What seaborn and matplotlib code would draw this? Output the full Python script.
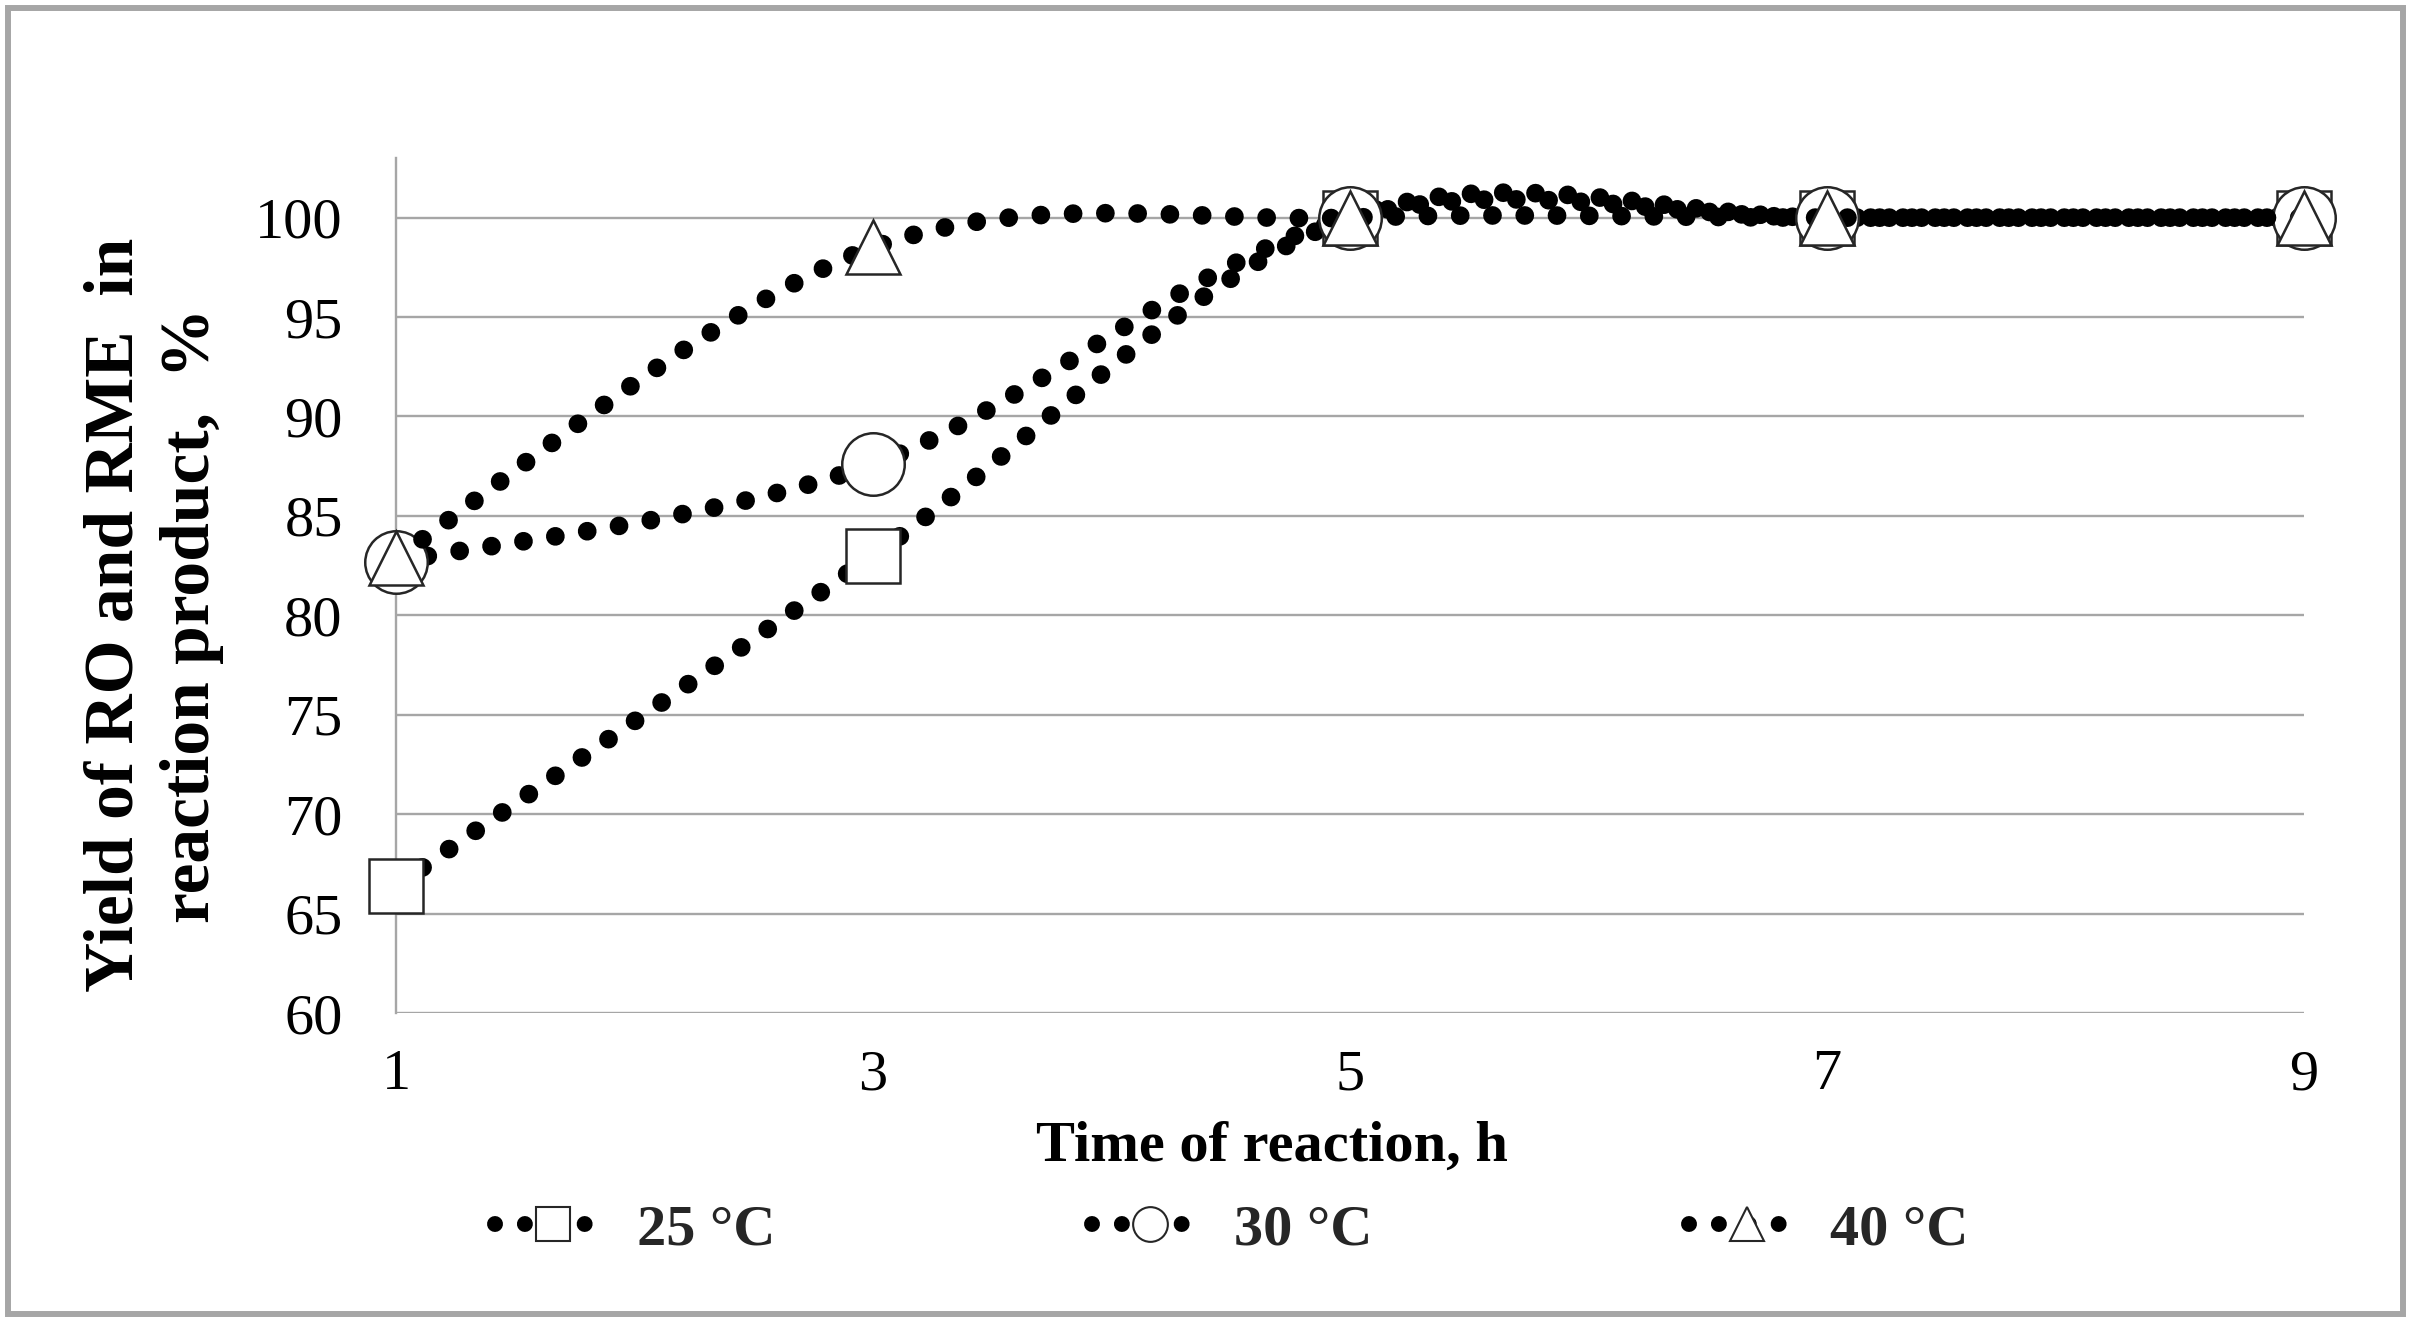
import numpy as np
import pandas as pd
import matplotlib
matplotlib.use("Agg")
import matplotlib.pyplot as plt
import seaborn as sns
from matplotlib.path import Path
from matplotlib.patches import PathPatch, Rectangle
from matplotlib.lines import Line2D
from matplotlib.legend_handler import HandlerLine2D

# ---------------- data ----------------
time_h = [1, 3, 5, 7, 9]
yield_25 = [66.4, 83.0, 100.0, 100.0, 100.0]
yield_30 = [82.7, 87.6, 100.0, 100.0, 100.0]
yield_40 = [82.9, 98.5, 100.0, 100.0, 100.0]
series_labels = ["25 °C", "30 °C", "40 °C"]
y_ticks = [60, 65, 70, 75, 80, 85, 90, 95, 100]
x_ticks = [1, 3, 5, 7, 9]

x_label = "Time of reaction, h"
y_label = "Yield of RO and RME  in\nreaction product,  %"

# ---------------- style ----------------
sns.set_theme(style="white")
plt.rcParams['font.family'] = ['Liberation Serif', 'DejaVu Serif']
plt.rcParams['lines.scale_dashes'] = True

W, H = 2411, 1322
fig = plt.figure(figsize=(W / 100, H / 100), dpi=100)
fig.patch.set_facecolor("white")

ax_left, ax_right, ax_top, ax_bottom = 396, 2304, 158, 1013
ax = fig.add_axes([ax_left / W, 1 - ax_bottom / H,
                   (ax_right - ax_left) / W, (ax_bottom - ax_top) / H])
ax.set_facecolor("white")

grid_c = "#a6a6a6"
DOT_LW = 13.5
DOTS = (0, (0.001, 1.72))

series = [
    (yield_25, "s", 39),
    (yield_30, "o", 45),
    (yield_40, "^", 39),
]


def smooth_path(xs, ys):
    """Excel-like smoothed line rendered as cubic Bezier through data points."""
    pts = np.column_stack([xs, ys]).astype(float)
    n = len(pts)
    verts = [pts[0]]
    codes = [Path.MOVETO]
    for i in range(n - 1):
        p0 = pts[i - 1] if i > 0 else pts[i]
        p1 = pts[i]
        p2 = pts[i + 1]
        p3 = pts[i + 2] if i + 2 < n else pts[i + 1]
        c1 = p1 + (p2 - p0) / 6.0
        c2 = p2 - (p3 - p1) / 6.0
        verts += [c1, c2, p2]
        codes += [Path.CURVE4] * 3
    return Path(np.array(verts), codes)


z = 3
for (vals, mk, ms), lab in zip(series, series_labels):
    patch = PathPatch(smooth_path(time_h, vals), transform=ax.transData,
                      fill=False, edgecolor="black", linewidth=DOT_LW,
                      linestyle=DOTS, capstyle="round", zorder=z,
                      clip_on=False)
    ax.add_patch(patch)
    df = pd.DataFrame({"t": time_h, "y": vals})
    sns.lineplot(data=df, x="t", y="y", ax=ax, marker=mk, markersize=ms,
                 linestyle="", markerfacecolor="white",
                 markeredgecolor="#262626", markeredgewidth=1.8,
                 color="black", clip_on=False, zorder=z + 1,
                 errorbar=None, legend=False)
    z += 2

# ---------------- axes ----------------
ax.set_xlim(1, 9)
ax.set_ylim(60, 103)
ax.set_xticks(x_ticks)
ax.set_xticklabels([str(v) for v in x_ticks])
ax.set_yticks(y_ticks)
ax.set_yticklabels([str(v) for v in y_ticks])

ax.yaxis.grid(True, color=grid_c, linewidth=1.7)
ax.xaxis.grid(False)
ax.set_axisbelow(True)
for s in ["top", "right", "bottom"]:
    ax.spines[s].set_visible(False)
ax.spines["left"].set_color(grid_c)
ax.spines["left"].set_linewidth(1.7)

ax.tick_params(axis="y", which="major", direction="out", length=14.4,
               width=1.7, color=grid_c, pad=24, labelsize=42, labelcolor="black")
ax.tick_params(axis="x", which="major", length=0, pad=26, labelsize=42,
               labelcolor="black")

ax.set_xlabel(x_label, fontsize=42, fontweight="bold", color="black")
ax.xaxis.set_label_coords(0.459, -0.1263)

ax.set_ylabel(y_label, fontsize=50, fontweight="bold", color="black",
              linespacing=1.24, multialignment="center")
ax.yaxis.label.set_va("center")
ax.yaxis.set_label_coords(-0.1270, 0.4655)


# ---------------- legend ----------------
class OffsetMarkerHandler(HandlerLine2D):
    """Dotted legend line with the marker placed right of centre (Excel look)."""

    def __init__(self, frac=0.63, **kw):
        super().__init__(**kw)
        self.frac = frac

    def create_artists(self, legend, orig_handle, xdescent, ydescent,
                       width, height, fontsize, trans):
        artists = super().create_artists(legend, orig_handle, xdescent,
                                         ydescent, width, height, fontsize,
                                         trans)
        x0 = -xdescent
        xm = x0 + self.frac * width
        if len(artists) == 1:
            line = artists[0]
            ys = line.get_ydata()
            if len(ys) == 3:
                line.set_xdata([x0, xm, x0 + width])
        else:
            artists[1].set_xdata([xm])
        return artists


handles = []
for (vals, mk, ms), lab in zip(series, series_labels):
    h = Line2D([], [], color="black", linewidth=11.5,
               linestyle=(0, (0.001, 1.87)), dash_capstyle="round",
               marker=mk, markersize=25,
               markerfacecolor="white", markeredgecolor="#262626",
               markeredgewidth=1.5, label=lab)
    handles.append(h)

leg = fig.legend(handles=handles, loc="center left",
                 bbox_to_anchor=(495 / W, 1 - 1230 / H),
                 bbox_transform=fig.transFigure, ncol=3, frameon=False,
                 prop={"family": "Liberation Serif", "weight": "bold", "size": 42},
                 handlelength=1.58, handletextpad=0.85, columnspacing=5.43,
                 borderpad=0, borderaxespad=0, numpoints=1,
                 handler_map={Line2D: OffsetMarkerHandler(frac=0.63)})

# ---------------- outer border ----------------
fig.patches.append(Rectangle((8 / W, 8 / H), (W - 16) / W, (H - 16) / H,
                             transform=fig.transFigure, fill=False,
                             edgecolor=grid_c, linewidth=4.3, zorder=10))

fig.savefig("out.png", dpi=100)
